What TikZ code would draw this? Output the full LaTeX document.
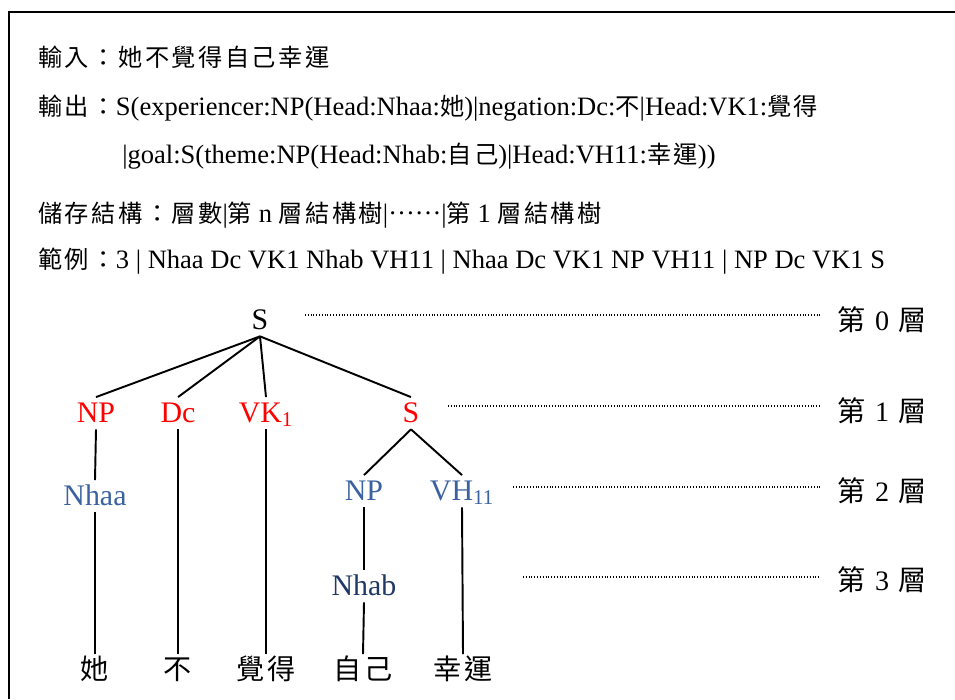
\documentclass[tikz,border=0pt]{standalone}
\usepackage{fontspec}
\setmainfont{Liberation Serif}
\newfontfamily\cjk[LetterSpace=10]{Noto Sans CJK TC}
\newcommand{\zh}[1]{{\cjk\fontsize{13.8}{16}\selectfont #1}}
\usetikzlibrary{positioning}

\definecolor{nodeblue}{HTML}{3A62A0}
\definecolor{nodenavy}{HTML}{1F3864}

\begin{document}
\begin{tikzpicture}[x=0.02cm, y=-0.02cm]
    % --- Style Definitions ---
    \tikzset{
        frame line/.style={
            draw=black,
            line width=1.4pt
        },
        header text/.style={
            anchor=base west,
            inner sep=0pt,
            font=\fontsize{15.1}{18}\selectfont
        },
        tree node/.style={
            anchor=base,
            inner xsep=1pt,
            inner ysep=0.14cm,
            text height=1em,
            text depth=0pt,
            font=\fontsize{17}{20}\selectfont
        },
        level one/.style={tree node, text=red},
        level two/.style={tree node, text=nodeblue},
        level three/.style={tree node, text=nodenavy},
        leaf node/.style={
            tree node,
            font=\cjk\fontsize{16}{19}\selectfont
        },
        branch/.style={
            draw=black,
            line width=1.1pt
        },
        level label/.style={
            anchor=base west,
            inner xsep=0.34cm,
            inner ysep=0pt,
            font=\fontsize{16}{19}\selectfont
        },
        level guide/.style={
            draw=black,
            line width=0.6pt,
            dash pattern=on 0.5pt off 1.1pt
        }
    }

    \useasboundingbox (0,0) rectangle (955,699);

    % --- 1. Frame ---
    \draw[frame line] (9,699) -- (9,12) -- (960,12);

    % --- 2. Header Lines ---
    \node[header text] (input) at (38,67) {\zh{輸入：她不覺得自己幸運}};
    \node[header text] (output) at (38,116)
        {\zh{輸出：}S(experiencer:NP(Head:Nhaa:\zh{她})|negation:Dc:\zh{不}|Head:VK1:\zh{覺得}};
    \node[header text] (output2) at (122,164)
        {|goal:S(theme:NP(Head:Nhab:\zh{自己})|Head:VH11:\zh{幸運}))};
    \node[header text] (storage) at (38,222)
        {\zh{儲存結構：層數}|\zh{第} n \zh{層結構樹}|\raisebox{0.28em}{……}|\zh{第} 1 \zh{層結構樹}};
    \node[header text] (example) at (38,268)
        {\zh{範例：}3 | Nhaa Dc VK1 Nhab VH11 | Nhaa Dc VK1 NP VH11 | NP Dc VK1 S};

    % --- 3. Tree Nodes ---
    \node[tree node] (root) at (260,329) {S};

    \node[level one] (np1) at (96,422) {NP};
    \node[level one] (dc) at (178,422) {Dc};
    \node[level one] (vk) at (266,422) {VK\textsubscript{1}};
    \node[level one] (s1) at (411,422) {S};

    \node[level two] (nhaa) at (95,505) {Nhaa};
    \node[level two] (np2) at (364,500) {NP};
    \node[level two] (vh) at (462,500) {VH\textsubscript{11}};

    \node[level three] (nhab) at (364,595) {Nhab};

    \node[leaf node] (she) at (95,679) {她};
    \node[leaf node] (neg) at (178,679) {不};
    \node[leaf node] (feel) at (266,679) {覺得};
    \node[leaf node] (self) at (363,679) {自己};
    \node[leaf node] (lucky) at (463,679) {幸運};

    % --- 4. Branches ---
    \foreach \kid in {np1, dc, vk, s1}
        \draw[branch] (root.south) -- (\kid.north);
    \draw[branch] (s1.south) -- (np2.north);
    \draw[branch] (s1.south) -- (vh.north);
    \draw[branch] (np1.south) -- (nhaa.north);
    \draw[branch] (nhaa.south) -- (she.north);
    \draw[branch] (dc.south) -- (neg.north);
    \draw[branch] (vk.south) -- (feel.north);
    \draw[branch] (np2.south) -- (nhab.north);
    \draw[branch] (nhab.south) -- (self.north);
    \draw[branch] (vh.south) -- (lucky.north);

    % --- 5. Level Labels ---
    \node[level label] (lab0) at (820,330) {{\cjk 第}\kern1.5pt{} 0 \kern1.5pt{\cjk 層}};
    \node[level label] (lab1) at (820,421) {{\cjk 第}\kern1.5pt{} 1 \kern1.5pt{\cjk 層}};
    \node[level label] (lab2) at (820,501) {{\cjk 第}\kern1.5pt{} 2 \kern1.5pt{\cjk 層}};
    \node[level label] (lab3) at (820,590) {{\cjk 第}\kern1.5pt{} 3 \kern1.5pt{\cjk 層}};

    \coordinate (g0) at (305,315);
    \coordinate (g1) at (448,406);
    \coordinate (g2) at (513,487);
    \coordinate (g3) at (523,577);
    \draw[level guide] (g0) -- (g0 -| lab0.west);
    \draw[level guide] (g1) -- (g1 -| lab1.west);
    \draw[level guide] (g2) -- (g2 -| lab2.west);
    \draw[level guide] (g3) -- (g3 -| lab3.west);

\end{tikzpicture}
\end{document}
